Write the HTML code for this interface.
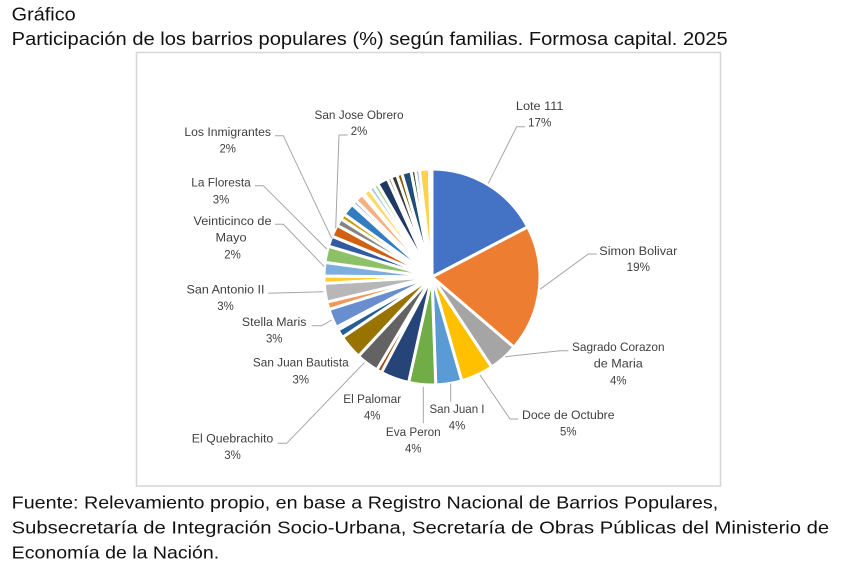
<!DOCTYPE html>
<html>
<head>
<meta charset="utf-8">
<style>
  html, body { margin: 0; padding: 0; background: #ffffff; }
  body { width: 842px; height: 573px; overflow: hidden; }
  svg { display: block; }
  .t { font-family: "Liberation Sans", Arial, sans-serif; fill: #111111; }
  .l { font-family: "Liberation Sans", Arial, sans-serif; font-size: 12.2px; fill: #404040; text-anchor: middle; }
  .ld { fill: none; stroke: #A6A6A6; stroke-width: 1; }
</style>
</head>
<body>
<svg width="842" height="573" viewBox="0 0 842 573" xmlns="http://www.w3.org/2000/svg">
  <rect x="0" y="0" width="842" height="573" fill="#ffffff"/>

  <!-- Title -->
  <text class="t" x="11.7" y="20.7" font-size="18.5" textLength="64" lengthAdjust="spacingAndGlyphs">Gráfico</text>
  <text class="t" x="11.7" y="45" font-size="18.5" textLength="716" lengthAdjust="spacingAndGlyphs">Participación de los barrios populares (%) según familias. Formosa capital. 2025</text>

  <!-- Chart box -->
  <rect x="136.5" y="52.5" width="584" height="433.5" fill="#ffffff" stroke="#D6D6D6" stroke-width="1.5"/>

  <!-- Pie -->
  <g stroke="#ffffff" stroke-width="3" stroke-linejoin="round">
    <path fill="#4472C4" d="M432 277 L432 169 A108 108 0 0 1 527.71 226.96 Z"/>
    <path fill="#ED7D31" d="M432 277 L527.71 226.96 A108 108 0 0 1 514.00 347.28 Z"/>
    <path fill="#A5A5A5" d="M432 277 L514.00 347.28 A108 108 0 0 1 491.61 367.06 Z"/>
    <path fill="#FFC000" d="M432 277 L491.61 367.06 A108 108 0 0 1 461.77 380.82 Z"/>
    <path fill="#5B9BD5" d="M432 277 L461.77 380.82 A108 108 0 0 1 435.77 384.93 Z"/>
    <path fill="#70AD47" d="M432 277 L435.77 384.93 A108 108 0 0 1 408.62 382.44 Z"/>
    <path fill="#264478" d="M432 277 L408.62 382.44 A108 108 0 0 1 381.46 372.45 Z"/>
    <path fill="#9E480E" d="M432 277 L381.46 372.45 A108 108 0 0 1 376.86 369.86 Z"/>
    <path fill="#636363" d="M432 277 L376.86 369.86 A108 108 0 0 1 358.48 356.11 Z"/>
    <path fill="#997300" d="M432 277 L358.48 356.11 A108 108 0 0 1 342.46 337.39 Z"/>
    <path fill="#255E91" d="M432 277 L342.46 337.39 A108 108 0 0 1 337.91 330.02 Z"/>
    <path fill="#43682B" d="M432 277 L337.91 330.02 A108 108 0 0 1 336.38 327.20 Z"/>
    <path fill="#698ED0" d="M432 277 L336.38 327.20 A108 108 0 0 1 329.00 309.48 Z"/>
    <path fill="#F1975A" d="M432 277 L329.00 309.48 A108 108 0 0 1 326.94 302.03 Z"/>
    <path fill="#B7B7B7" d="M432 277 L326.94 302.03 A108 108 0 0 1 324.19 283.41 Z"/>
    <path fill="#FFCD33" d="M432 277 L324.19 283.41 A108 108 0 0 1 324.00 276.06 Z"/>
    <path fill="#7CAFDD" d="M432 277 L324.00 276.06 A108 108 0 0 1 325.00 262.34 Z"/>
    <path fill="#8CC168" d="M432 277 L325.00 262.34 A108 108 0 0 1 328.50 246.15 Z"/>
    <path fill="#335AA1" d="M432 277 L328.50 246.15 A108 108 0 0 1 332.01 236.19 Z"/>
    <path fill="#D26012" d="M432 277 L332.01 236.19 A108 108 0 0 1 337.18 225.30 Z"/>
    <path fill="#848484" d="M432 277 L337.18 225.30 A108 108 0 0 1 340.99 218.81 Z"/>
    <path fill="#CC9A00" d="M432 277 L340.99 218.81 A108 108 0 0 1 344.19 214.13 Z"/>
    <path fill="#327DC2" d="M432 277 L344.19 214.13 A108 108 0 0 1 351.99 204.45 Z"/>
    <path fill="#5A8A39" d="M432 277 L351.99 204.45 A108 108 0 0 1 353.01 203.34 Z"/>
    <path fill="#8FAADC" d="M432 277 L353.01 203.34 A108 108 0 0 1 355.90 200.37 Z"/>
    <path fill="#F4B183" d="M432 277 L355.90 200.37 A108 108 0 0 1 362.29 194.51 Z"/>
    <path fill="#C9C9C9" d="M432 277 L362.29 194.51 A108 108 0 0 1 363.74 193.31 Z"/>
    <path fill="#FFD966" d="M432 277 L363.74 193.31 A108 108 0 0 1 369.44 188.97 Z"/>
    <path fill="#9DC3E6" d="M432 277 L369.44 188.97 A108 108 0 0 1 373.50 186.22 Z"/>
    <path fill="#A9D18E" d="M432 277 L373.50 186.22 A108 108 0 0 1 377.67 183.66 Z"/>
    <path fill="#203864" d="M432 277 L377.67 183.66 A108 108 0 0 1 387.41 178.65 Z"/>
    <path fill="#843C0C" d="M432 277 L387.41 178.65 A108 108 0 0 1 390.84 177.15 Z"/>
    <path fill="#3B3B3B" d="M432 277 L390.84 177.15 A108 108 0 0 1 396.84 174.88 Z"/>
    <path fill="#7F6000" d="M432 277 L396.84 174.88 A108 108 0 0 1 401.87 173.29 Z"/>
    <path fill="#1F4E79" d="M432 277 L401.87 173.29 A108 108 0 0 1 411.02 171.06 Z"/>
    <path fill="#375623" d="M432 277 L411.02 171.06 A108 108 0 0 1 415.48 170.27 Z"/>
    <path fill="#6A8CC8" d="M432 277 L415.48 170.27 A108 108 0 0 1 419.40 169.74 Z"/>
    <path fill="#FFD24A" d="M432 277 L419.40 169.74 A108 108 0 0 1 429.36 169.03 Z"/>
    <path fill="#F0A070" d="M432 277 L429.36 169.03 A108 108 0 0 1 432 169 Z"/>
  </g>

  <!-- Leader lines -->
  <polyline class="ld" points="275,135.7 283.3,135.7 331.7,238.3"/>
  <polyline class="ld" points="347.7,135 339,135 335.7,228.3"/>
  <polyline class="ld" points="255,185.7 263.3,185.7 326.7,249"/>
  <polyline class="ld" points="275,224.3 283.3,224.3 324.3,266.7"/>
  <polyline class="ld" points="268.3,293.3 323.3,291.7"/>
  <polyline class="ld" points="311.7,325.7 321.7,325.7 331.7,320"/>
  <polyline class="ld" points="277.7,443.3 286.7,443.3 364.3,362.7"/>
  <polyline class="ld" points="423.3,386.7 423.3,423.3"/>
  <polyline class="ld" points="450.7,383.3 450.7,401.7"/>
  <polyline class="ld" points="518.3,419 510,419 480,375"/>
  <polyline class="ld" points="568.3,350.7 560,350.7 505,356.7"/>
  <polyline class="ld" points="596.7,254 588.3,254 540,289.3"/>
  <polyline class="ld" points="525,126.7 516.7,126.7 488.3,183.3"/>

  <!-- Labels -->
  <text class="l" x="539.7" y="110" textLength="47.6" lengthAdjust="spacingAndGlyphs">Lote 111</text>
  <text class="l" x="539.7" y="126.7" textLength="23.3" lengthAdjust="spacingAndGlyphs">17%</text>

  <text class="l" x="638.3" y="255" textLength="78" lengthAdjust="spacingAndGlyphs">Simon Bolivar</text>
  <text class="l" x="638.3" y="271" textLength="23.3" lengthAdjust="spacingAndGlyphs">19%</text>

  <text class="l" x="618.3" y="351" textLength="92.5" lengthAdjust="spacingAndGlyphs">Sagrado Corazon</text>
  <text class="l" x="618.3" y="367.7" textLength="49" lengthAdjust="spacingAndGlyphs">de Maria</text>
  <text class="l" x="618.3" y="384.3" textLength="16.5" lengthAdjust="spacingAndGlyphs">4%</text>

  <text class="l" x="568.3" y="418.8" textLength="92.5" lengthAdjust="spacingAndGlyphs">Doce de Octubre</text>
  <text class="l" x="568.3" y="435.5" textLength="16.5" lengthAdjust="spacingAndGlyphs">5%</text>

  <text class="l" x="457" y="413" textLength="55" lengthAdjust="spacingAndGlyphs">San Juan I</text>
  <text class="l" x="457" y="429.6" textLength="16.5" lengthAdjust="spacingAndGlyphs">4%</text>

  <text class="l" x="413.3" y="435.8" textLength="54.8" lengthAdjust="spacingAndGlyphs">Eva Peron</text>
  <text class="l" x="413.3" y="452.4" textLength="16.5" lengthAdjust="spacingAndGlyphs">4%</text>

  <text class="l" x="372.2" y="403" textLength="58" lengthAdjust="spacingAndGlyphs">El Palomar</text>
  <text class="l" x="372.2" y="419.6" textLength="16.5" lengthAdjust="spacingAndGlyphs">4%</text>

  <text class="l" x="232.5" y="442.5" textLength="81.5" lengthAdjust="spacingAndGlyphs">El Quebrachito</text>
  <text class="l" x="232.5" y="459" textLength="16.5" lengthAdjust="spacingAndGlyphs">3%</text>

  <text class="l" x="300.8" y="366.7" textLength="95.8" lengthAdjust="spacingAndGlyphs">San Juan Bautista</text>
  <text class="l" x="300.8" y="383.6" textLength="16.5" lengthAdjust="spacingAndGlyphs">3%</text>

  <text class="l" x="274.2" y="326" textLength="64.5" lengthAdjust="spacingAndGlyphs">Stella Maris</text>
  <text class="l" x="274.2" y="342.7" textLength="16.5" lengthAdjust="spacingAndGlyphs">3%</text>

  <text class="l" x="225.5" y="293.7" textLength="78" lengthAdjust="spacingAndGlyphs">San Antonio II</text>
  <text class="l" x="225.5" y="310" textLength="16.5" lengthAdjust="spacingAndGlyphs">3%</text>

  <text class="l" x="232.5" y="225" textLength="78" lengthAdjust="spacingAndGlyphs">Veinticinco de</text>
  <text class="l" x="231" y="241.7" textLength="31" lengthAdjust="spacingAndGlyphs">Mayo</text>
  <text class="l" x="232.5" y="258.3" textLength="16.5" lengthAdjust="spacingAndGlyphs">2%</text>

  <text class="l" x="221" y="186.7" textLength="59.5" lengthAdjust="spacingAndGlyphs">La Floresta</text>
  <text class="l" x="221" y="203.3" textLength="16.5" lengthAdjust="spacingAndGlyphs">3%</text>

  <text class="l" x="227.7" y="136" textLength="86.6" lengthAdjust="spacingAndGlyphs">Los Inmigrantes</text>
  <text class="l" x="227.7" y="152.5" textLength="16.5" lengthAdjust="spacingAndGlyphs">2%</text>

  <text class="l" x="359" y="119" textLength="89" lengthAdjust="spacingAndGlyphs">San Jose Obrero</text>
  <text class="l" x="359" y="135" textLength="16.5" lengthAdjust="spacingAndGlyphs">2%</text>

  <!-- Footer -->
  <text class="t" x="11.7" y="508.7" font-size="17.3" textLength="706.5" lengthAdjust="spacingAndGlyphs">Fuente: Relevamiento propio, en base a Registro Nacional de Barrios Populares,</text>
  <text class="t" x="11.7" y="533.7" font-size="17.3" textLength="817.5" lengthAdjust="spacingAndGlyphs">Subsecretaría de Integración Socio-Urbana, Secretaría de Obras Públicas del Ministerio de</text>
  <text class="t" x="11.7" y="558.7" font-size="17.3" textLength="207.5" lengthAdjust="spacingAndGlyphs">Economía de la Nación.</text>
</svg>
</body>
</html>
